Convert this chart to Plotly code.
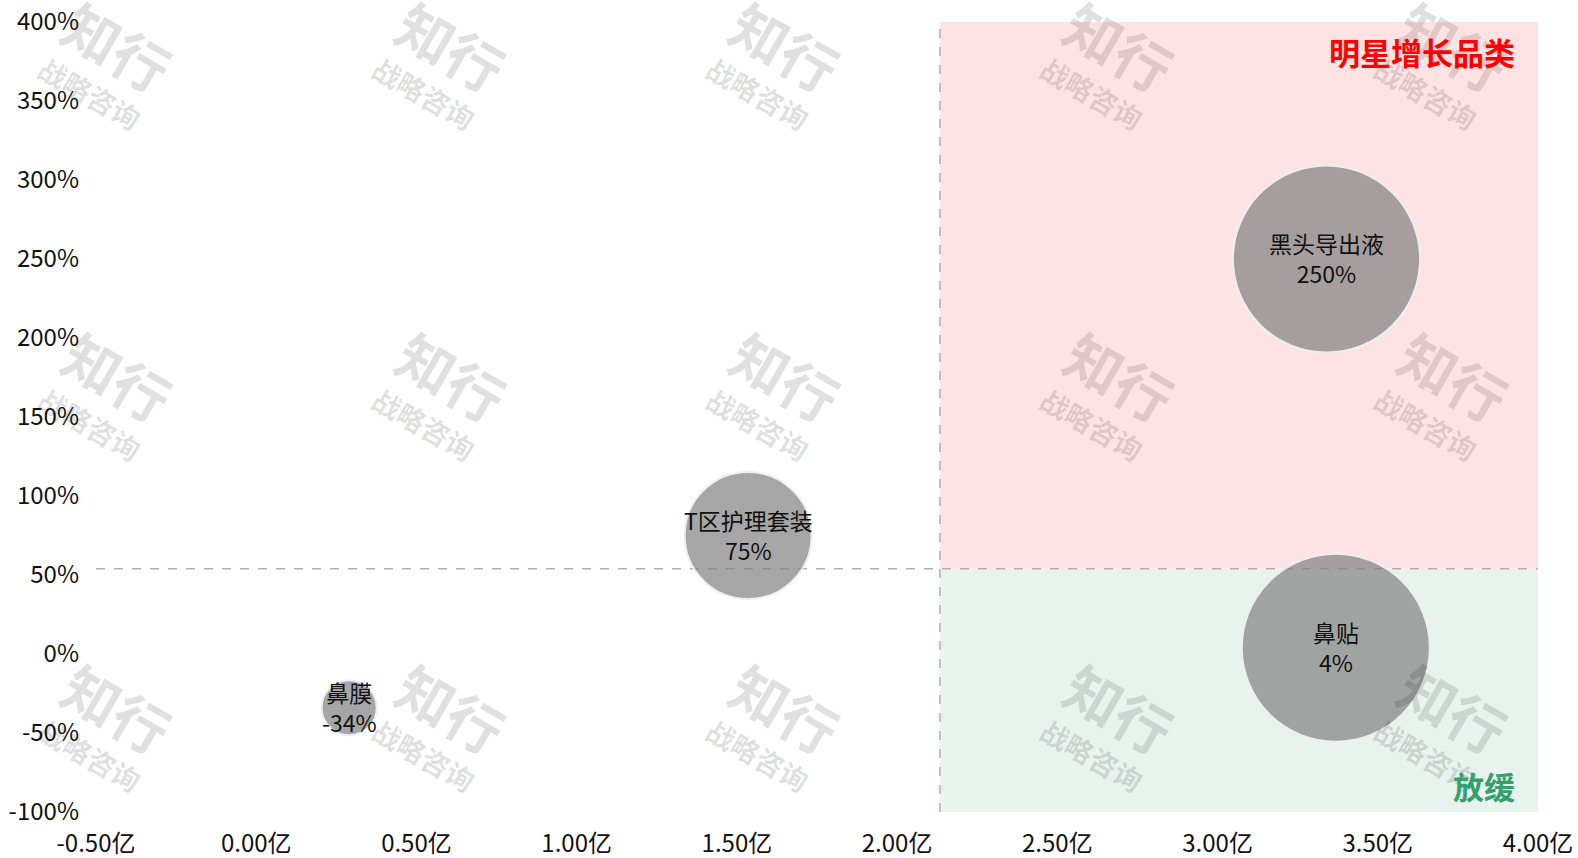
import plotly.graph_objects as go

# Category data: sales (亿) on x, growth rate (%) on y
categories = ["鼻膜", "T区护理套装", "黑头导出液", "鼻贴"]
sales = [0.29, 1.535, 3.34, 3.369]
growth = [-34, 75, 250, 4]

# Axis ticks
x_ticks = [-0.5, 0.0, 0.5, 1.0, 1.5, 2.0, 2.5, 3.0, 3.5, 4.0]
y_ticks = [-100, -50, 0, 50, 100, 150, 200, 250, 300, 350, 400]
x_tick_labels = [f"{v:.2f}亿" for v in x_ticks]
y_tick_labels = [f"{v}%" for v in y_ticks]

# Quadrant split lines
sales_split = sum(sales) / len(sales)
growth_split = 54

x_range = [x_ticks[0], x_ticks[-1]]
y_range = [y_ticks[0], y_ticks[-1]]

FONT = "Noto Sans CJK SC, Microsoft YaHei, sans-serif"

# Plot-area geometry (pixels) used for placing the background watermark
W, H = 1578, 858
M_L, M_R, M_T, M_B = 96, 40, 22, 46
PW, PH = W - M_L - M_R, H - M_T - M_B

fig = go.Figure()

max_d = 188
fig.add_trace(go.Scatter(
    x=sales,
    y=growth,
    mode="markers",
    marker=dict(
        size=sales,
        sizemode="area",
        sizeref=2 * max(sales) / max_d ** 2,
        color="rgba(128,128,128,0.7)",
        opacity=1,
        line=dict(color="#eeeeee", width=2),
    ),
    hoverinfo="skip",
    showlegend=False,
))

# Quadrant backgrounds
fig.add_shape(type="rect", xref="x", yref="y", layer="below", line_width=0,
              x0=sales_split, x1=x_range[1], y0=growth_split, y1=y_range[1],
              fillcolor="#ffe3e4")
fig.add_shape(type="rect", xref="x", yref="y", layer="below", line_width=0,
              x0=sales_split, x1=x_range[1], y0=y_range[0], y1=growth_split,
              fillcolor="#e8f3ee")

# Dashed split lines
dash_line = dict(color="#b0b0b0", width=1.5, dash="dash")
fig.add_shape(type="line", xref="x", yref="y", layer="below",
              x0=x_range[0], x1=x_range[1], y0=growth_split, y1=growth_split,
              line=dash_line)
fig.add_shape(type="line", xref="x", yref="y", layer="below",
              x0=sales_split, x1=sales_split, y0=y_range[0], y1=y_range[1],
              line=dash_line)

annotations = []

# Tiled watermark
wm_cols = [118 + 334 * i for i in range(5)]
wm_rows = [45 + 331 * j for j in range(3)]
wm_color = "rgba(0,0,0,0.12)"
for cy in wm_rows:
    for cx in wm_cols:
        annotations.append(dict(
            text="<b>知行</b>", xref="paper", yref="paper",
            x=(cx - M_L) / PW, y=(M_T + PH - cy) / PH,
            xanchor="center", yanchor="middle", showarrow=False,
            textangle=30, font=dict(family=FONT, size=56, color=wm_color),
        ))
        annotations.append(dict(
            text="<b>战略咨询</b>", xref="paper", yref="paper",
            x=(cx - 28 - M_L) / PW, y=(M_T + PH - (cy + 48)) / PH,
            xanchor="center", yanchor="middle", showarrow=False,
            textangle=30, font=dict(family=FONT, size=28, color=wm_color),
        ))

# Bubble labels: name and growth rate
for c, sx, g in zip(categories, sales, growth):
    annotations.append(dict(
        text=f"{c}<br>{g}%", xref="x", yref="y", x=sx, y=g,
        xanchor="center", yanchor="middle", showarrow=False, yshift=1,
        font=dict(family=FONT, size=23, color="#111111"),
    ))

# Quadrant titles
annotations.append(dict(
    text="<b>明星增长品类</b>", xref="paper", yref="paper",
    x=(1517 - M_L) / PW, y=(M_T + PH - 52) / PH,
    xanchor="right", yanchor="middle", showarrow=False,
    font=dict(family=FONT, size=31, color="#ff0000"),
))
annotations.append(dict(
    text="<b>放缓</b>", xref="paper", yref="paper",
    x=(1517 - M_L) / PW, y=(M_T + PH - 785) / PH,
    xanchor="right", yanchor="middle", showarrow=False,
    font=dict(family=FONT, size=31, color="#34a06c"),
))

fig.update_layout(
    width=W, height=H,
    margin=dict(l=M_L, r=M_R, t=M_T, b=M_B, autoexpand=False),
    paper_bgcolor="white", plot_bgcolor="white",
    annotations=annotations,
    xaxis=dict(
        range=x_range, tickmode="array", tickvals=x_ticks, ticktext=x_tick_labels,
        showgrid=False, zeroline=False, showline=False, ticks="",
        ticklabelstandoff=15,
        tickfont=dict(family=FONT, size=24, color="#111111"),
    ),
    yaxis=dict(
        range=y_range, tickmode="array", tickvals=y_ticks, ticktext=y_tick_labels,
        showgrid=False, zeroline=False, showline=False, ticks="",
        ticklabelstandoff=16,
        tickfont=dict(family=FONT, size=24, color="#111111"),
    ),
)

fig.write_html("out.html")
